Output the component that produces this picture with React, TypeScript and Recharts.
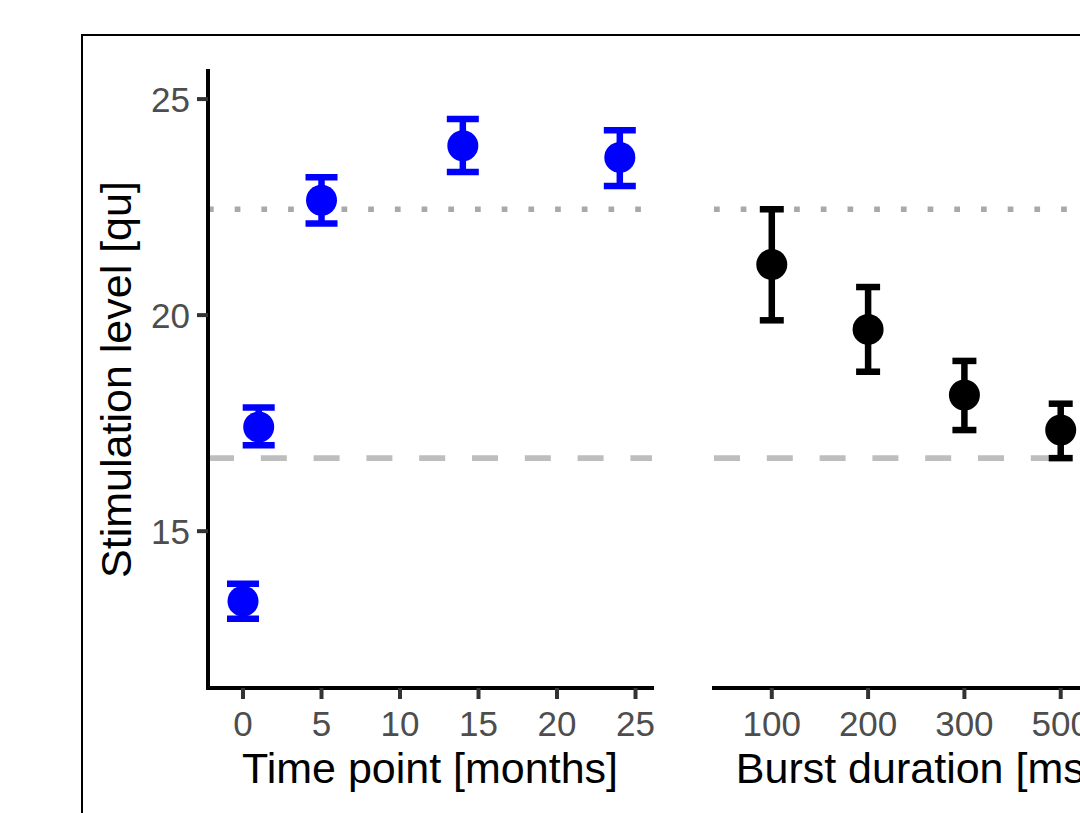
import { ErrorBar, Label, ReferenceLine, Scatter, ScatterChart, XAxis, YAxis } from "recharts";

// values
const MONTHS = [0, 1, 5, 14, 24];
const MONTH_MEAN = [13.38, 17.41, 22.66, 23.92, 23.65];
const MONTH_LOW = [12.97, 16.99, 22.12, 23.31, 22.99];
const MONTH_HIGH = [13.78, 17.86, 23.19, 24.54, 24.28];

const BURST_LABELS = ["100", "200", "300", "500"];
const BURST_MEAN = [21.17, 19.67, 18.15, 17.34];
const BURST_LOW = [19.88, 18.69, 17.34, 16.69];
const BURST_HIGH = [22.45, 20.65, 18.94, 17.95];

const MONTH_TICKS = [0, 5, 10, 15, 20, 25];
const Y_TICKS = [15, 20, 25];
const DOTTED_LEVEL = 22.45;
const DASHED_LEVEL = 16.69;

const Y_DOMAIN: [number, number] = [11.37, 25.65];
const FONT = "'Liberation Sans', Arial, sans-serif";

const monthData = MONTHS.map((m, i) => ({
  x: m,
  y: MONTH_MEAN[i],
  err: [MONTH_MEAN[i] - MONTH_LOW[i], MONTH_HIGH[i] - MONTH_MEAN[i]],
}));

const burstData = BURST_LABELS.map((label, i) => ({
  x: i,
  label,
  y: BURST_MEAN[i],
  err: [BURST_MEAN[i] - BURST_LOW[i], BURST_HIGH[i] - BURST_MEAN[i]],
}));

const axisLine = { stroke: "#000", strokeWidth: 4, strokeLinecap: "square" as const };
const tickLine = { stroke: "#333", strokeWidth: 4 };
const tickStyle = { fill: "#4d4d4d", fontSize: 35, fontFamily: FONT };
const titleStyle = { fill: "#000", fontSize: 43, fontFamily: FONT };

function dot(color: string) {
  return (p: any) => <circle cx={p.cx} cy={p.cy} r={15.5} fill={color} />;
}

export default function App() {
  return (
    <div
      style={{
        position: "fixed",
        left: 0,
        top: 0,
        width: 1080,
        height: 813,
        overflow: "hidden",
        background: "#fff",
      }}
    >
      <div
        style={{
          position: "absolute",
          left: 81,
          top: 34,
          width: 1200,
          height: 1000,
          border: "2px solid #000",
        }}
      />

      <div style={{ position: "absolute", left: 0, top: 0 }}>
        <ScatterChart width={680} height={813} margin={{ top: 71, right: 28, bottom: 0, left: 24 }}>
          <XAxis
            type="number"
            dataKey="x"
            domain={[-2.23, 26.05]}
            ticks={MONTH_TICKS}
            interval={0}
            allowDataOverflow
            height={125}
            axisLine={axisLine}
            tickLine={tickLine}
            tick={tickStyle}
            tickSize={11}
            tickMargin={12}
          >
            <Label value="Time point [months]" position="insideTop" offset={64} {...titleStyle} />
          </XAxis>
          <YAxis
            type="number"
            dataKey="y"
            domain={Y_DOMAIN}
            ticks={Y_TICKS}
            interval={0}
            allowDataOverflow
            width={184}
            axisLine={axisLine}
            tickLine={tickLine}
            tick={tickStyle}
            tickSize={11}
            tickMargin={7}
          >
            <Label value="Stimulation level [qu]" angle={-90} position="center" {...titleStyle} />
          </YAxis>
          <ReferenceLine y={DOTTED_LEVEL} stroke="#a9a9a9" strokeWidth={5.7} strokeDasharray="5.7 21" />
          <ReferenceLine y={DASHED_LEVEL} stroke="#bebebe" strokeWidth={5.7} strokeDasharray="26 26.8" />
          <Scatter data={monthData} fill="#0000ff" shape={dot("#0000ff")} isAnimationActive={false}>
            <ErrorBar dataKey="err" direction="y" width={16} strokeWidth={6.5} stroke="#0000ff" isAnimationActive={false} />
          </Scatter>
        </ScatterChart>
      </div>

      <div style={{ position: "absolute", left: 690, top: 0 }}>
        <ScatterChart width={440} height={813} margin={{ top: 71, right: 11.5, bottom: 0, left: 24 }}>
          <XAxis
            type="number"
            dataKey="x"
            domain={[-0.6, 3.6]}
            ticks={burstData.map((d) => d.x)}
            tickFormatter={(i: number) => BURST_LABELS[i]}
            interval={0}
            allowDataOverflow
            height={125}
            axisLine={axisLine}
            tickLine={tickLine}
            tick={tickStyle}
            tickSize={11}
            tickMargin={12}
          >
            <Label value="Burst duration [ms]" position="insideTop" offset={64} {...titleStyle} />
          </XAxis>
          <YAxis type="number" dataKey="y" domain={Y_DOMAIN} allowDataOverflow hide />
          <ReferenceLine y={DOTTED_LEVEL} stroke="#a9a9a9" strokeWidth={5.7} strokeDasharray="5.7 21" />
          <ReferenceLine y={DASHED_LEVEL} stroke="#bebebe" strokeWidth={5.7} strokeDasharray="26 26.8" />
          <Scatter data={burstData} fill="#000" shape={dot("#000")} isAnimationActive={false}>
            <ErrorBar dataKey="err" direction="y" width={12} strokeWidth={6.5} stroke="#000" isAnimationActive={false} />
          </Scatter>
        </ScatterChart>
      </div>
    </div>
  );
}
